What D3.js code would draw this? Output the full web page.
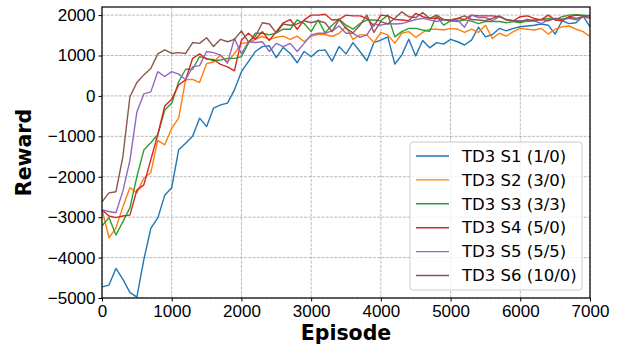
<!DOCTYPE html>
<html>
<head>
<meta charset="utf-8">
<script src="https://cdn.jsdelivr.net/npm/d3@7"></script>
<style>
  body { margin: 0; background: #fff; }
  svg { display: block; font-family: "DejaVu Sans", sans-serif; }
  .grid line { stroke: #a8a8a8; stroke-width: 0.8; stroke-dasharray: 3,1.3; }
  .axis text { font-size: 17px; fill: #000; }
  .axis line, .axis path { stroke: #000; }
</style>
</head>
<body>
<div id="chart"></div>
<script>
// episodes sampled every 100 steps
var episodes = d3.range(0, 7001, 100);

var s1 = [-4725,-4680,-4270,-4540,-4860,-4980,-4050,-3280,-3020,-2460,-2270,
  -1330,-1170,-1000,-550,-760,-300,-220,-180,150,600,
  850,1100,1220,1240,950,1200,1050,820,1100,970,
  1120,1140,860,1220,1040,1320,1100,870,1320,1380,
  1460,790,1010,1400,990,1370,1190,1320,1280,1400,
  1340,1260,1380,1700,1460,1520,1670,1610,1670,1710,
  1730,1750,1780,1750,1530,1860,1790,1810,1980,1710];
var s2 = [-2800,-3510,-3270,-2740,-2270,-2400,-2030,-1900,-1100,-1210,-800,
  -550,400,410,330,800,840,1010,840,1050,1300,
  1320,1400,1470,1400,1450,1480,1400,1480,1340,1480,
  1520,1520,1470,1550,1710,1400,1510,1510,1320,1570,
  1510,1300,1550,1590,1450,1570,1650,1650,1630,1670,
  1650,1570,1650,1570,1750,1420,1550,1480,1590,1670,
  1650,1630,1670,1530,1650,1710,1730,1650,1590,1470];
var s3 = [-3220,-3010,-3440,-3110,-2770,-2000,-1340,-1160,-960,-350,-180,
  350,660,660,970,930,870,890,930,930,970,
  1300,1550,1550,1510,1560,1650,1650,1880,1790,1590,
  1880,1560,1750,1900,1750,1650,1790,1880,1880,1860,
  2000,1460,1590,1670,1670,1630,1600,1980,1750,1860,
  1840,1880,1850,1790,1840,1840,1840,1810,1840,1810,
  1860,1880,1890,1920,1890,1960,2000,2010,2000,1980];
var s4 = [-2820,-2970,-3010,-2970,-2950,-2330,-2200,-1580,-960,-250,-80,
  270,400,930,1040,910,900,780,720,620,1380,
  1550,1400,1590,1370,1590,1810,1890,1650,1880,2000,
  2000,2020,1880,1890,2000,1980,1980,1920,1730,2000,
  1980,1890,1880,1860,2040,1960,1920,1920,1890,1880,
  1920,1890,2000,1980,1980,1980,1960,1880,1860,1960,
  1980,1920,1880,2000,1880,1860,1960,2000,1980,1940];
var s5 = [-2820,-2860,-2890,-2350,-1600,-400,50,100,600,480,600,
  540,400,720,750,1100,1070,1010,810,1420,1040,
  1340,1320,1340,1100,1300,1220,1300,1100,1300,1510,
  1550,1550,1610,1730,1550,1550,1450,1510,1780,1750,
  1790,1780,1790,1840,1890,1920,1880,1840,1880,1860,
  1880,1700,2000,1940,1940,1860,1960,1880,1860,1860,
  1840,1860,1790,1880,1920,1890,1920,1880,1960,1920];
var s6 = [-2620,-2400,-2370,-1500,-20,330,520,680,1040,1140,1050,
  1070,1050,1320,1300,1440,1220,1400,1340,1400,1610,
  1340,1470,1810,1780,1560,1780,1750,1780,1860,1810,
  1860,1810,1590,1890,1670,1560,1750,2000,1570,1840,
  1780,1920,2080,1960,1940,2060,1920,2000,1890,1860,
  1920,1980,1890,1880,1860,1920,1980,1890,1860,1840,
  1890,1860,1890,1860,1920,1890,1940,1920,1960,2000];

var seriesNames = ['TD3 S1 (1/0)', 'TD3 S2 (3/0)', 'TD3 S3 (3/3)', 'TD3 S4 (5/0)', 'TD3 S5 (5/5)', 'TD3 S6 (10/0)'];
var seriesValues = [s1, s2, s3, s4, s5, s6];
var seriesColors = ['#1f77b4', '#ff7f0e', '#2ca02c', '#d62728', '#9467bd', '#8c564b'];
var xTicks = [0, 1000, 2000, 3000, 4000, 5000, 6000, 7000];
var yTicks = [-5000, -4000, -3000, -2000, -1000, 0, 1000, 2000];

var W = 619, H = 348;
var m = { left: 102, right: 29, top: 7, bottom: 50 };
var iw = W - m.left - m.right, ih = H - m.top - m.bottom;

var svg = d3.select('#chart').append('svg').attr('width', W).attr('height', H);
var g = svg.append('g').attr('transform', 'translate(' + m.left + ',' + m.top + ')');

var x = d3.scaleLinear().domain([0, 7000]).range([0, iw]);
var y = d3.scaleLinear().domain([-5000, 2200]).range([ih, 0]);

// grid
var grid = g.append('g').attr('class', 'grid');
grid.selectAll('.gx').data(xTicks).enter().append('line')
  .attr('x1', x).attr('x2', x).attr('y1', 0).attr('y2', ih);
grid.selectAll('.gy').data(yTicks).enter().append('line')
  .attr('y1', y).attr('y2', y).attr('x1', 0).attr('x2', iw);

// lines
var line = d3.line()
  .x(function(d, i) { return x(episodes[i]); })
  .y(function(d) { return y(d); });
g.append('defs').append('clipPath').attr('id', 'clip')
  .append('rect').attr('width', iw).attr('height', ih);
g.append('g').attr('clip-path', 'url(#clip)')
  .selectAll('path').data(seriesValues).enter().append('path')
  .attr('d', line)
  .attr('fill', 'none')
  .attr('stroke', function(d, i) { return seriesColors[i]; })
  .attr('stroke-width', 1.4)
  .attr('stroke-linejoin', 'round');

// axes
var xAxis = d3.axisBottom(x).tickValues(xTicks).tickSize(3.5).tickPadding(3.5).tickFormat(d3.format('d'));
var yAxis = d3.axisLeft(y).tickValues(yTicks).tickSize(3.5).tickPadding(3).tickFormat(d3.format('d'));
g.append('g').attr('class', 'axis').attr('transform', 'translate(0,' + ih + ')').call(xAxis)
  .call(function(s) { s.select('.domain').remove(); });
g.append('g').attr('class', 'axis').call(yAxis)
  .call(function(s) { s.select('.domain').remove(); });

// frame
g.append('rect').attr('width', iw).attr('height', ih)
  .attr('fill', 'none').attr('stroke', '#000').attr('stroke-width', 1.2);

// axis labels
svg.append('text').attr('x', m.left + iw / 2).attr('y', 340)
  .attr('text-anchor', 'middle').attr('font-size', '20.5px').attr('font-weight', 'bold')
  .text('Episode');
svg.append('text').attr('transform', 'translate(31,' + (m.top + ih / 2) + ') rotate(-90)')
  .attr('text-anchor', 'middle').attr('font-size', '20.5px').attr('font-weight', 'bold')
  .text('Reward');

// legend
var leg = svg.append('g').attr('transform', 'translate(410,142)');
leg.append('rect').attr('width', 172).attr('height', 148).attr('rx', 3)
  .attr('fill', '#fff').attr('fill-opacity', 0.8).attr('stroke', '#ccc');
var items = leg.selectAll('.item').data(seriesNames).enter().append('g')
  .attr('transform', function(d, i) { return 'translate(0,' + (14 + i * 23.9) + ')'; });
items.append('line').attr('x1', 6).attr('x2', 39)
  .attr('stroke', function(d, i) { return seriesColors[i]; }).attr('stroke-width', 1.4);
items.append('text').attr('x', 52).attr('dy', '0.35em').attr('font-size', '16.5px')
  .text(function(d) { return d; });
</script>
</body>
</html>
